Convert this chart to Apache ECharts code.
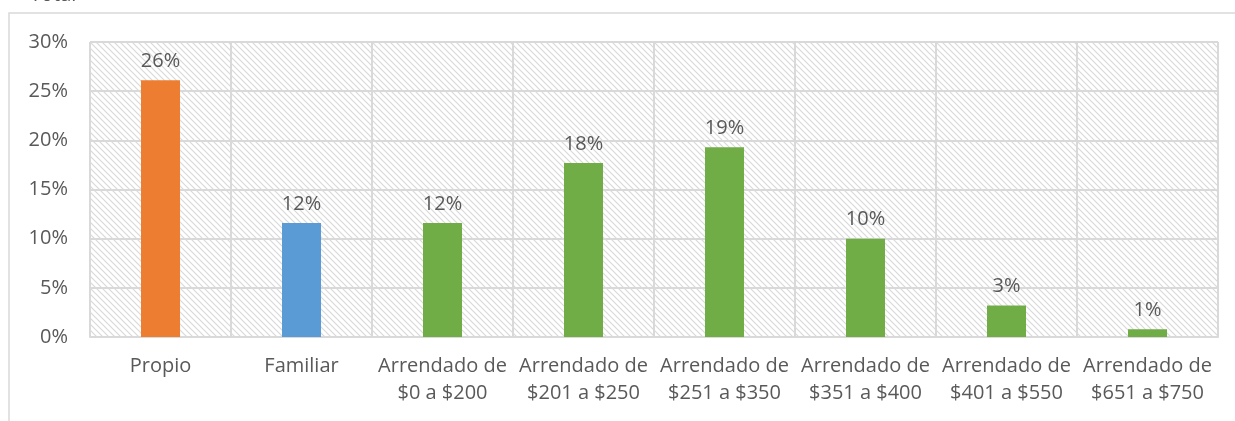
<!DOCTYPE html>
<html>
<head>
<meta charset="utf-8">
<script src="https://cdn.jsdelivr.net/npm/echarts@6/dist/echarts.min.js"></script>
<style>
    html, body { margin: 0; padding: 0; background: #fff; }
    #chart { width: 1235px; height: 421px; }
</style>
</head>
<body>
<div id="chart"></div>
<script>
// 数据
var categories = ['Propio', 'Familiar', 'Arrendado de\n$0 a $200', 'Arrendado de\n$201 a $250',
    'Arrendado de\n$251 a $350', 'Arrendado de\n$351 a $400', 'Arrendado de\n$401 a $550', 'Arrendado de\n$651 a $750'];
var values = [26.1, 11.6, 11.6, 17.7, 19.3, 10.0, 3.2, 0.8];
var barColors = ['#ED7D31', '#5B9BD5', '#70AD47', '#70AD47', '#70AD47', '#70AD47', '#70AD47', '#70AD47'];
var yTicks = [0, 5, 10, 15, 20, 25, 30];

// 斜线底纹
function hatch() {
    var c = document.createElement('canvas');
    c.width = 6;
    c.height = 6;
    var ctx = c.getContext('2d');
    ctx.fillStyle = '#ffffff';
    ctx.fillRect(0, 0, 6, 6);
    ctx.strokeStyle = '#d9d9d9';
    ctx.lineWidth = 1.2;
    ctx.beginPath();
    ctx.moveTo(-1, -1); ctx.lineTo(7, 7);
    ctx.moveTo(-1, 5); ctx.lineTo(1, 7);
    ctx.moveTo(5, -1); ctx.lineTo(7, 1);
    ctx.stroke();
    return c;
}

function drawChart(divId) {
    var myChart = echarts.init(document.getElementById(divId));
    var font = '"Open Sans", "Noto Sans", sans-serif';
    var option = {
        animation: false,
        textStyle: { fontFamily: font },
        title: {
            text: 'Total',
            left: 25,
            top: -20,
            textStyle: { color: '#595959', fontSize: 20, fontWeight: 'normal', fontFamily: font }
        },
        graphic: [{
            type: 'rect',
            shape: { x: 9, y: 13, width: 1240, height: 420 },
            style: { fill: null, stroke: '#d9d9d9', lineWidth: 1.5 },
            silent: true
        }],
        grid: {
            left: 90,
            right: 17,
            top: 42,
            bottom: 84,
            show: true,
            borderWidth: 0,
            backgroundColor: { image: hatch(), repeat: 'repeat' }
        },
        xAxis: {
            type: 'category',
            data: categories,
            axisLine: { lineStyle: { color: '#d9d9d9', width: 2 } },
            axisTick: { show: false },
            splitLine: { show: true, interval: 0, lineStyle: { color: '#d9d9d9', width: 2 } },
            axisLabel: {
                color: '#595959',
                fontSize: 20,
                lineHeight: 27,
                margin: 16,
                interval: 0,
                fontFamily: font
            }
        },
        yAxis: {
            type: 'value',
            min: yTicks[0],
            max: yTicks[yTicks.length - 1],
            interval: 5,
            axisLine: { show: false },
            axisTick: { show: false },
            splitLine: { lineStyle: { color: '#d9d9d9', width: 2 } },
            axisLabel: {
                color: '#595959',
                fontSize: 20,
                margin: 22,
                fontFamily: font,
                formatter: '{value}%'
            }
        },
        series: [{
            type: 'bar',
            barWidth: 39,
            data: values.map(function (v, i) {
                return { value: v, itemStyle: { color: barColors[i] } };
            }),
            label: {
                show: true,
                position: 'top',
                distance: 9,
                color: '#595959',
                fontSize: 20,
                fontFamily: font,
                formatter: function (p) { return Math.round(p.value) + '%'; }
            }
        }]
    };
    myChart.clear();
    myChart.setOption(option);
    return myChart;
}

drawChart('chart');
</script>
</body>
</html>
